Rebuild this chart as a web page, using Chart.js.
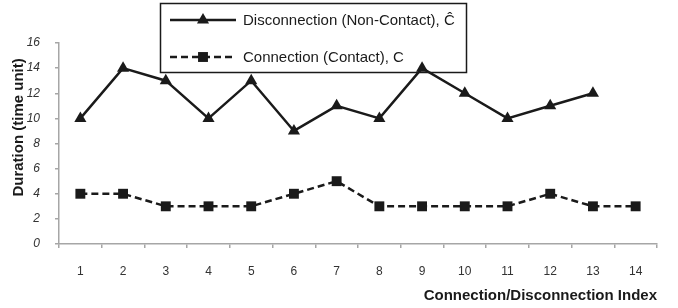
<!DOCTYPE html>
<html>
<head>
<meta charset="utf-8">
<title>Connection / Disconnection Duration</title>
<script src="https://cdn.jsdelivr.net/npm/chart.js@4.4.0/dist/chart.umd.min.js"></script>
<style>
  html, body { margin: 0; padding: 0; background: #fff; }
  #wrap { position: relative; width: 678px; height: 308px; }
</style>
</head>
<body>
<div id="wrap"><canvas id="durationChart"></canvas></div>
<script>
// --- Data ---
const indexLabels = ["1", "2", "3", "4", "5", "6", "7", "8", "9", "10", "11", "12", "13", "14"];
const disconnectionDurations = [10, 14, 13, 10, 13, 9, 11, 10, 14, 12, 10, 11, 12, null];
const connectionDurations = [4, 4, 3, 3, 3, 4, 5, 3, 3, 3, 3, 4, 3, 3];
const yTickValues = [0, 2, 4, 6, 8, 10, 12, 14, 16];
const seriesNames = ["Disconnection (Non-Contact), \u0108", "Connection (Contact), C"];

const FONT = "'Liberation Sans', Arial, sans-serif";
const INK = "#1a1a1a";
const AXIS_GREY = "#a6a6a6";

// draws a marker like chart.js does (triangle / rect)
function drawMarker(ctx, style, x, y, r) {
  ctx.beginPath();
  if (style === "triangle") {
    ctx.moveTo(x, y - r);
    ctx.lineTo(x + r * Math.sin(Math.PI / 3), y + r / 2);
    ctx.lineTo(x - r * Math.sin(Math.PI / 3), y + r / 2);
  } else {
    const s = Math.SQRT1_2 * r;
    ctx.rect(x - s, y - s, 2 * s, 2 * s);
  }
  ctx.closePath();
  ctx.fill();
}

// legend box sits over the plot, drawn before the lines so markers overlap it
const boxLegend = {
  id: "boxLegend",
  beforeDatasetsDraw(chart) {
    const ctx = chart.ctx;
    ctx.save();
    ctx.fillStyle = "#fff";
    ctx.fillRect(160, 3, 307, 70);
    ctx.strokeStyle = INK;
    ctx.lineWidth = 1.5;
    ctx.strokeRect(160.5, 3.5, 306, 69);

    const rows = [20, 57];
    chart.data.datasets.forEach((ds, i) => {
      const y = rows[i];
      ctx.strokeStyle = ds.borderColor;
      ctx.lineWidth = ds.borderWidth;
      ctx.setLineDash(ds.borderDash || []);
      ctx.beginPath();
      ctx.moveTo(170, y);
      ctx.lineTo(236, y);
      ctx.stroke();
      ctx.setLineDash([]);
      ctx.fillStyle = ds.pointBackgroundColor;
      drawMarker(ctx, ds.pointStyle, 203, y, ds.pointRadius);
      ctx.fillStyle = INK;
      ctx.font = "15px " + FONT;
      ctx.textAlign = "left";
      ctx.textBaseline = "middle";
      ctx.fillText(ds.label, 243, y + 1);
    });
    ctx.restore();
  },
};

// y title sits a bit above the middle of the axis in the original
const yTitle = {
  id: "yTitle",
  afterDraw(chart) {
    const { top, bottom } = chart.chartArea;
    const ctx = chart.ctx;
    ctx.save();
    ctx.translate(19, top + (bottom - top) * 0.42);
    ctx.rotate(-Math.PI / 2);
    ctx.font = "bold 15px " + FONT;
    ctx.fillStyle = INK;
    ctx.textAlign = "center";
    ctx.textBaseline = "middle";
    ctx.fillText("Duration (time unit)", 0, 0);
    ctx.restore();
  },
};

new Chart(document.getElementById("durationChart"), {
  type: "line",
  data: {
    labels: indexLabels,
    datasets: [
      {
        label: seriesNames[0],
        data: disconnectionDurations,
        borderColor: INK,
        borderWidth: 2.5,
        pointStyle: "triangle",
        pointRadius: 7,
        pointBackgroundColor: INK,
        pointBorderColor: INK,
        pointBorderWidth: 0,
        tension: 0,
        spanGaps: false,
      },
      {
        label: seriesNames[1],
        data: connectionDurations,
        borderColor: INK,
        borderWidth: 2.5,
        borderDash: [7, 4],
        pointStyle: "rect",
        pointRadius: 7,
        pointBackgroundColor: INK,
        pointBorderColor: INK,
        pointBorderWidth: 0,
        tension: 0,
      },
    ],
  },
  options: {
    responsive: true,
    maintainAspectRatio: false,
    animation: false,
    layout: { padding: { top: 43, right: 21, left: 0, bottom: 0 } },
    plugins: {
      legend: { display: false },
      tooltip: { enabled: false },
    },
    scales: {
      x: {
        offset: true,
        grid: {
          offset: true,
          drawOnChartArea: false,
          tickLength: 4,
          color: AXIS_GREY,
          lineWidth: 1.5,
        },
        border: { color: AXIS_GREY, width: 1.5 },
        ticks: {
          color: "#333",
          font: { family: FONT, size: 12 },
          padding: 16,
          maxRotation: 0,
          autoSkip: false,
        },
        title: {
          display: true,
          text: "Connection/Disconnection Index",
          align: "end",
          color: INK,
          font: { family: FONT, size: 15, weight: "bold" },
          padding: { top: 0, bottom: 3 },
        },
        afterFit(scale) {
          scale.height = 64;
        },
      },
      y: {
        min: 0,
        max: 16,
        afterBuildTicks(scale) {
          scale.ticks = yTickValues.map((v) => ({ value: v }));
        },
        grid: {
          drawOnChartArea: false,
          tickLength: 4,
          color: AXIS_GREY,
          lineWidth: 1.5,
        },
        border: { color: AXIS_GREY, width: 1.5 },
        ticks: {
          color: "#333",
          font: { family: FONT, size: 12, style: "italic" },
          padding: 15,
        },
        afterFit(scale) {
          scale.width = 59;
        },
      },
    },
  },
  plugins: [boxLegend, yTitle],
});
</script>
</body>
</html>
